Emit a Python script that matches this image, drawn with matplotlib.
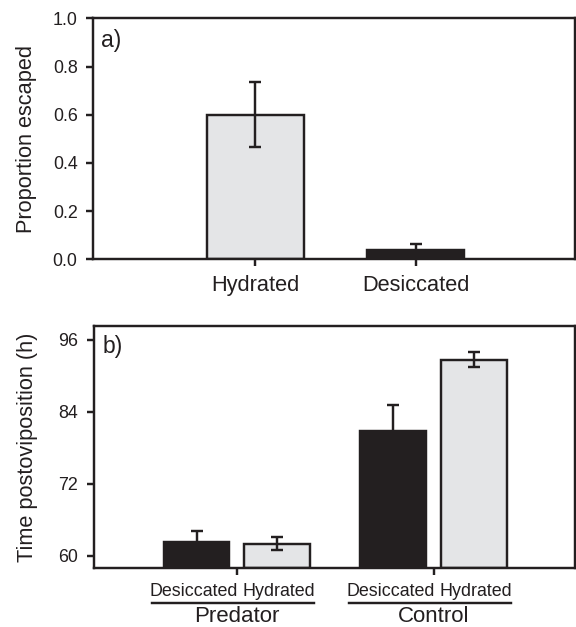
import matplotlib
matplotlib.use("Agg")
import matplotlib.pyplot as plt
import matplotlib.transforms as mtransforms

plt.rcParams['font.family'] = ['Liberation Sans', 'DejaVu Sans']

# panel a: proportion escaped
a_categories = ["Hydrated", "Desiccated"]
a_means = [0.60, 0.0375]
a_se = [0.135, 0.025]

# panel b: time postoviposition (h)
b_groups = ["Predator", "Control"]
b_treatments = ["Desiccated", "Hydrated"]
b_desiccated = [62.4, 80.85]
b_desiccated_se = [1.7, 4.25]
b_hydrated = [62.05, 92.7]
b_hydrated_se = [1.05, 1.2]

DARK = "#231f20"
LIGHT = "#e4e5e7"
LW = 1.75


def style_axes(ax):
    for sp in ax.spines.values():
        sp.set_color(DARK)
        sp.set_linewidth(LW)
    ax.tick_params(direction="out", length=4.8, width=LW, color=DARK,
                   labelcolor=DARK, labelsize=12.9, pad=6.5)


fig = plt.figure(figsize=(5.76, 6.27), dpi=100)

# ---- a) ----
ax_a = fig.add_axes([0.162, 0.5864, 0.836, 0.3844])
style_axes(ax_a)
x_a = list(range(len(a_categories)))
a_colors = [LIGHT, DARK]
ax_a.bar(x_a, a_means, width=0.605, color=a_colors, edgecolor=DARK,
         linewidth=LW, zorder=2)
ax_a.errorbar(x_a, a_means, yerr=a_se, fmt="none", ecolor=DARK,
              elinewidth=LW, capsize=4.6, capthick=LW, zorder=3)
ax_a.set_xlim(-1.01, 1.99)
ax_a.set_ylim(0, 1.0)
ax_a.set_yticks([0.0, 0.2, 0.4, 0.6, 0.8, 1.0])
ax_a.set_yticklabels([f"{v:.1f}" for v in [0.0, 0.2, 0.4, 0.6, 0.8, 1.0]])
ax_a.set_xticks(x_a)
ax_a.set_xticklabels(a_categories, fontsize=15.7)
ax_a.set_ylabel("Proportion escaped", fontsize=15.7, color=DARK)
ax_a.yaxis.set_label_coords(-0.117, 0.5)
ax_a.text(0.016, 0.906, "a)", transform=ax_a.transAxes, fontsize=16.5,
          color=DARK, ha="left", va="center")

# ---- b) ----
ax_b = fig.add_axes([0.163, 0.0946, 0.835, 0.3847])
style_axes(ax_b)
y_low, y_high = 58.05, 98.2
x_b = list(range(len(b_groups)))
off = 0.205
w = 0.335
xd = [x - off for x in x_b]
xh = [x + off for x in x_b]
ax_b.bar(xd, [v - y_low for v in b_desiccated], bottom=y_low, width=w,
         color=DARK, edgecolor=DARK, linewidth=LW, zorder=2)
ax_b.bar(xh, [v - y_low for v in b_hydrated], bottom=y_low, width=w,
         color=LIGHT, edgecolor=DARK, linewidth=LW, zorder=2)
ax_b.errorbar(xd, b_desiccated, yerr=b_desiccated_se, fmt="none", ecolor=DARK,
              elinewidth=LW, capsize=4.6, capthick=LW, zorder=3)
ax_b.errorbar(xh, b_hydrated, yerr=b_hydrated_se, fmt="none", ecolor=DARK,
              elinewidth=LW, capsize=4.6, capthick=LW, zorder=3)
ax_b.set_xlim(-0.726, 1.716)
ax_b.set_ylim(y_low, y_high)
ax_b.set_yticks([60, 72, 84, 96])
ax_b.set_xticks(x_b)
ax_b.set_xticklabels([])
ax_b.set_ylabel("Time postoviposition (h)", fontsize=15.7, color=DARK)
ax_b.yaxis.set_label_coords(-0.117, 0.5)
ax_b.text(0.019, 0.919, "b)", transform=ax_b.transAxes, fontsize=16.5,
          color=DARK, ha="left", va="center")

trans = mtransforms.blended_transform_factory(ax_b.transData, ax_b.transAxes)
for i, g in enumerate(b_groups):
    ax_b.text(xd[i] - 0.015, -0.0995, b_treatments[0], transform=trans,
              ha="center", va="center", fontsize=12.9, color=DARK)
    ax_b.text(xh[i] + 0.01, -0.0995, b_treatments[1], transform=trans,
              ha="center", va="center", fontsize=12.9, color=DARK)
    ax_b.plot([x_b[i] - 0.433, x_b[i] + 0.39], [-0.146, -0.146], transform=trans,
              color=DARK, lw=LW, clip_on=False)
    ax_b.text(x_b[i], -0.203, g, transform=trans, ha="center", va="center",
              fontsize=16, color=DARK)

fig.savefig("out.png", dpi=100)
